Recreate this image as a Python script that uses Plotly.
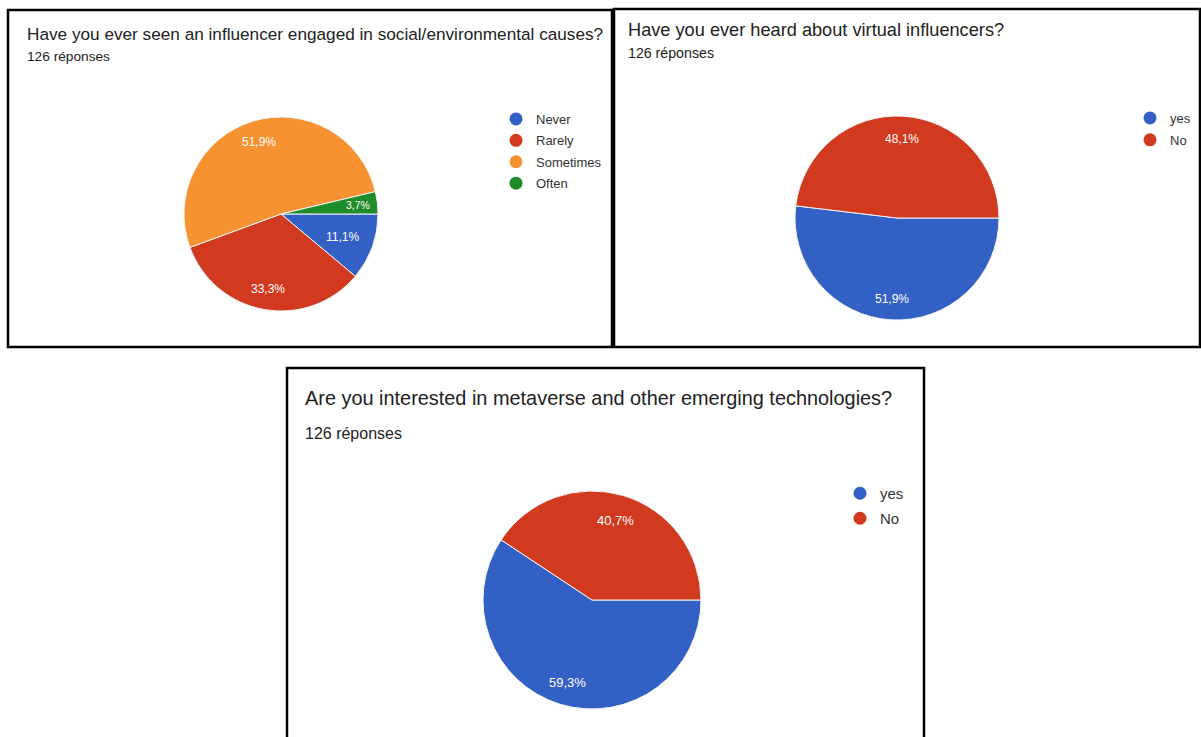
import math
import plotly.graph_objects as go

# --- survey results (share of 126 respondents, %) ---
q1_title = "Have you ever seen an influencer engaged in social/environmental causes?"
q1_labels = ["Never", "Rarely", "Sometimes", "Often"]
q1_values = [11.1, 33.3, 51.9, 3.7]
q1_colors = ["#3260C4", "#D13A1F", "#F6922F", "#1F8C2A"]

q2_title = "Have you ever heard about virtual influencers?"
q2_labels = ["yes", "No"]
q2_values = [51.9, 48.1]
q2_colors = ["#3260C4", "#D13A1F"]

q3_title = "Are you interested in metaverse and other emerging technologies?"
q3_labels = ["yes", "No"]
q3_values = [59.3, 40.7]
q3_colors = ["#3260C4", "#D13A1F"]

subtitle = "126 réponses"

# radial placement of the percentage labels (fraction of pie radius)
q1_label_radius = [0.68, 0.79, 0.77, 0.80]
q2_label_radius = [0.80, 0.78]
q3_label_radius = [0.79, 0.76]

W, H = 1201, 737
FONT = "Liberation Sans"


def fx(x):
    return x / W


def fy(y):
    return 1 - y / H


def pct_text(v):
    return f"{v:.1f}".replace(".", ",") + "%"


fig = go.Figure()

panels = [
    # values, labels, colors, label radii, pie centre (px), radius (px), legend id, label sizes
    (q1_values, q1_labels, q1_colors, q1_label_radius, (281, 214), 97, "legend", [12, 12, 12, 10.5]),
    (q2_values, q2_labels, q2_colors, q2_label_radius, (897, 218), 102, "legend2", [12, 12]),
    (q3_values, q3_labels, q3_colors, q3_label_radius, (592, 600), 109, "legend3", [13, 13]),
]

for values, labels, colors, radii, (cx, cy), r, leg, tsizes in panels:
    fig.add_trace(go.Pie(
        values=values,
        labels=labels,
        textinfo="none",
        marker=dict(colors=colors, line=dict(color="#f4f4f4", width=1)),
        sort=False,
        direction="clockwise",
        rotation=90,
        showlegend=False,
        hoverinfo="label+percent",
        domain=dict(x=[fx(cx - r), fx(cx + r)], y=[fy(cy + r), fy(cy - r)]),
    ))

    # percentage labels on the slice bisectors (slices run clockwise from 3 o'clock)
    total = sum(values)
    cum = 0.0
    for v, f, s in zip(values, radii, tsizes):
        mid = (cum + v / 2) / total
        cum += v
        ang = 2 * math.pi * mid
        lx = cx + f * r * math.cos(ang)
        ly = cy + f * r * math.sin(ang)
        fig.add_annotation(text=pct_text(v), x=fx(lx), y=fy(ly), xref="paper", yref="paper",
                           xanchor="center", yanchor="middle", showarrow=False,
                           font=dict(family=FONT, size=s, color="white"))

    # round legend swatches
    for lab, col in zip(labels, colors):
        fig.add_trace(go.Scatter(
            x=[None], y=[None], mode="markers", name=lab,
            marker=dict(color=col, size=13, symbol="circle"),
            legend=leg, legendgroup=f"{leg}-{lab}", showlegend=True,
        ))

# panel frames
frames = [(8, 10, 612, 347), (614, 9, 1200, 347), (287, 368, 924, 760)]
for x0, y0, x1, y1 in frames:
    fig.add_shape(type="rect", xref="paper", yref="paper",
                  x0=fx(x0), x1=fx(x1), y0=fy(y1), y1=fy(y0),
                  line=dict(color="black", width=2.5), fillcolor="rgba(0,0,0,0)")

# titles and response counts
texts = [
    (q1_title, 25, 34, 17.2), (subtitle, 25, 57, 13.7),
    (q2_title, 626, 30, 18.2), (subtitle, 626, 53, 14.2),
    (q3_title, 303, 398, 19.9), (subtitle, 303, 433, 16),
]
for t, x, y, s in texts:
    fig.add_annotation(text=t, x=fx(x), y=fy(y), xref="paper", yref="paper",
                       xanchor="left", yanchor="middle", showarrow=False,
                       font=dict(family=FONT, size=s, color="#222222"))

legend_common = dict(xanchor="left", yanchor="top", bgcolor="rgba(0,0,0,0)",
                     borderwidth=0, itemclick=False, itemdoubleclick=False)
fig.update_layout(
    width=W, height=H, autosize=False,
    margin=dict(l=0, r=0, t=0, b=0),
    paper_bgcolor="white", plot_bgcolor="white",
    xaxis=dict(visible=False), yaxis=dict(visible=False),
    legend=dict(x=fx(496), y=fy(104), tracegroupgap=1.5,
                font=dict(family=FONT, size=13, color="#333333"), **legend_common),
    legend2=dict(x=fx(1130), y=fy(103), tracegroupgap=2,
                 font=dict(family=FONT, size=13, color="#333333"), **legend_common),
    legend3=dict(x=fx(840), y=fy(477), tracegroupgap=2.5,
                 font=dict(family=FONT, size=15, color="#333333"), **legend_common),
)

fig.write_html("out.html")
